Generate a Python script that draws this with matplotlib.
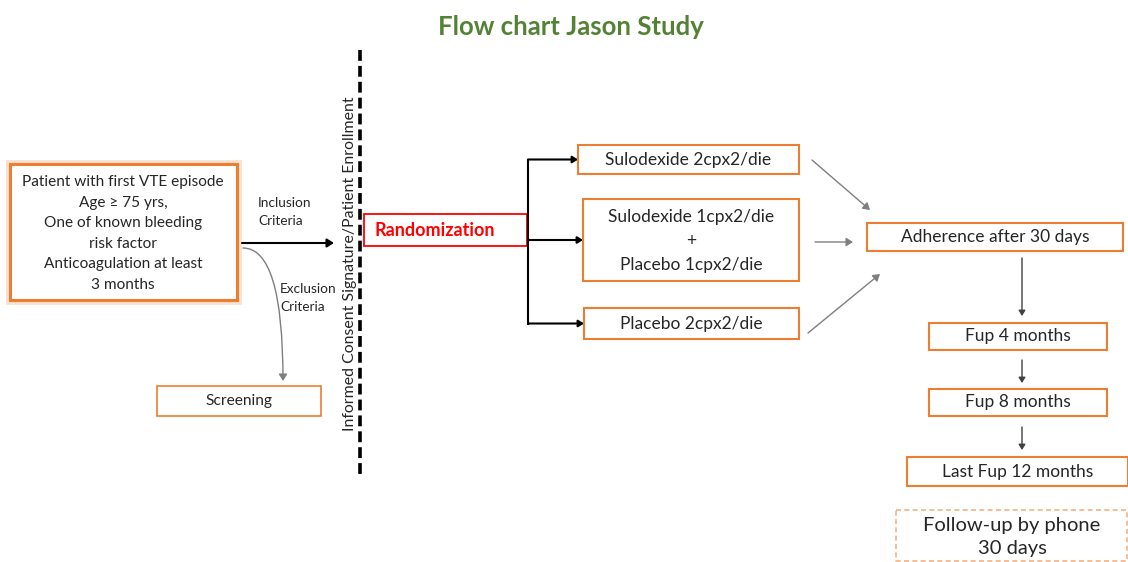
import matplotlib.pyplot as plt
from matplotlib.patches import Rectangle

plt.rcParams['font.family'] = ['Lato', 'DejaVu Sans']

# --- texts ---
title = 'Flow chart Jason Study'
patient_lines = ['Patient with first VTE episode', 'Age \u2265 75 yrs,', 'One of known bleeding',
                 'risk factor', 'Anticoagulation at least', '3 months']
inclusion_label = 'Inclusion\nCriteria'
exclusion_label = 'Exclusion\nCriteria'
screening_label = 'Screening'
consent_label = 'Informed Consent Signature/Patient Enrollment'
random_label = 'Randomization'
arm_labels = ['Sulodexide 2cpx2/die', 'Sulodexide 1cpx2/die\n+\nPlacebo 1cpx2/die', 'Placebo 2cpx2/die']
followup_labels = ['Adherence after 30 days', 'Fup 4 months', 'Fup 8 months', 'Last Fup 12 months']
phone_label = 'Follow-up by phone\n30 days'

# --- layout (pixels, y downwards): x0, y0, x1, y1 ---
patient_box = (10, 164, 237, 300)
screening_box = (157, 386, 321, 416)
random_box = (364, 214, 527, 246)
arm_boxes = [(578, 145, 799, 174), (583, 199, 799, 281), (584, 308, 799, 339)]
followup_boxes = [(867, 223, 1123, 251), (929, 323, 1107, 350),
                  (929, 389, 1107, 416), (907, 457, 1128, 486)]
phone_box = (896, 510, 1127, 561)

ORANGE = '#ED7D31'
GREEN = '#548235'
RED = '#FF0000'
GRAY = '#7F7F7F'
TXT = '#262626'

fig = plt.figure(figsize=(11.28, 5.62), dpi=100)
ax = fig.add_axes([0, 0, 1, 1])
ax.set_xlim(0, 1128)
ax.set_ylim(562, 0)
ax.axis('off')


def box(b, color=ORANGE, lw=1.5, ls='-'):
    x0, y0, x1, y1 = b
    ax.add_patch(Rectangle((x0, y0), x1 - x0, y1 - y0, fill=False, edgecolor=color,
                           linewidth=lw, linestyle=ls))


def center(b):
    return (b[0] + b[2]) / 2, (b[1] + b[3]) / 2


def arrow(p0, p1, color='black', lw=1.2, cs='arc3', hw=0.25):
    ax.annotate('', xy=p1, xytext=p0,
                arrowprops=dict(arrowstyle=f'-|>,head_width={hw},head_length={hw * 1.6}',
                                color=color, lw=lw, shrinkA=0, shrinkB=0,
                                connectionstyle=cs))


# title
ax.text(571, 27, title, ha='center', va='center', fontsize=18.5, fontweight='bold', color=GREEN)

# patient box with a soft glow outside
x0, y0, x1, y1 = patient_box
ax.add_patch(Rectangle((x0 - 2, y0 - 2), x1 - x0 + 4, y1 - y0 + 4, fill=False,
                       edgecolor='#FBE0CF', linewidth=3.5))
box(patient_box, lw=2.2)
for i, line in enumerate(patient_lines):
    ax.text(123, 182 + i * 20.6, line, ha='center', va='center', fontsize=11.1, color=TXT)

# inclusion / exclusion
ax.text(258, 212, inclusion_label, ha='left', va='center', fontsize=9.8, color=TXT, linespacing=1.55)
arrow((242, 243), (334, 243), lw=1.5)
arrow((243, 248), (283, 381), color=GRAY, lw=1.0, cs='angle3,angleA=0,angleB=90')
ax.text(280, 298, exclusion_label, ha='left', va='center', fontsize=9.8, color=TXT, linespacing=1.55)

box(screening_box, lw=1.2)
ax.text(*center(screening_box), screening_label, ha='center', va='center', fontsize=11.2, color=TXT)

# consent line
ax.plot([360, 360], [50, 476], color='black', linewidth=2.6, linestyle=(0, (3, 1.4)))
ax.text(350, 264, consent_label, rotation=90, ha='center', va='center', fontsize=11.4, color=TXT)

# randomization
box(random_box, color=RED, lw=1.3)
ax.text(374, 230, random_label, ha='left', va='center', fontsize=13, fontweight='bold', color=RED)

# bracket to arms
arm_y = [center(b)[1] for b in arm_boxes]
ax.plot([528, 528], [arm_y[0], arm_y[2]], color='black', linewidth=1.5)
for b, y, lab in zip(arm_boxes, arm_y, arm_labels):
    arrow((528, y), (b[0], y), lw=1.5, hw=0.2)
    box(b, lw=1.5)
    ax.text(center(b)[0], y + 1, lab, ha='center', va='center',
            fontsize=12.5, color=TXT, linespacing=1.6)

# arms -> adherence
arrow((812, 160), (870, 210), color=GRAY, lw=1.0)
arrow((815, 242), (853, 242), color=GRAY, lw=1.0)
arrow((808, 333), (880, 274), color=GRAY, lw=1.0)

# follow-up chain
for b, lab in zip(followup_boxes, followup_labels):
    box(b, lw=1.5)
    ax.text(center(b)[0], center(b)[1], lab, ha='center', va='center', fontsize=12.5, color=TXT)
gaps = [(258, 316), (360, 383), (427, 450)]
for ya, yb in gaps:
    arrow((1022, ya), (1022, yb), color='#404040', lw=1.0, hw=0.2)

box(phone_box, color='#F4B183', lw=1.2, ls=(0, (3, 2)))
ax.text(1012, 537, phone_label, ha='center', va='center', fontsize=14.5, color=TXT, linespacing=1.4)

fig.savefig('out.png', dpi=100, facecolor='white')
